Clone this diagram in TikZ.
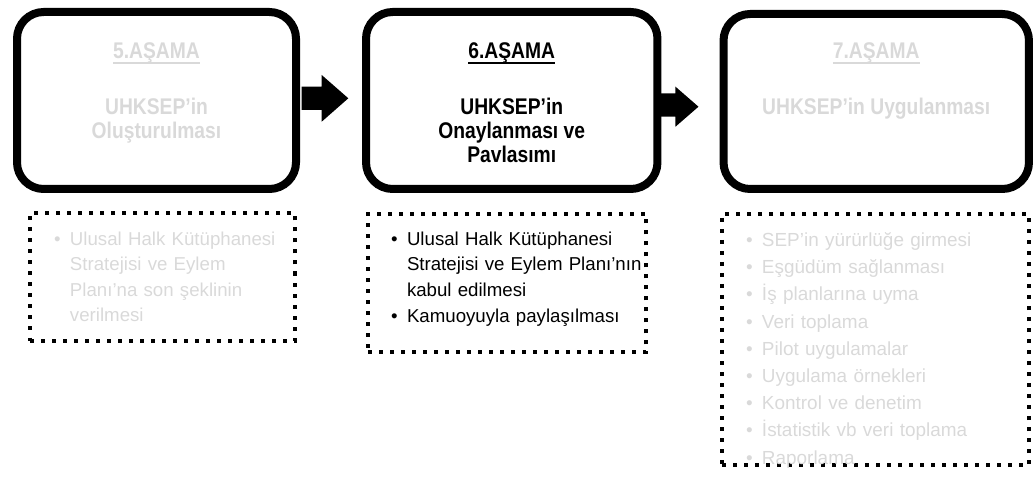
\documentclass[tikz,border=0pt]{standalone}
\usepackage{fontspec}
\setmainfont{Liberation Sans}
\newfontfamily\stagefont[FakeStretch=0.85]{Liberation Sans}
\usepackage{tikz}
\usetikzlibrary{positioning}
\usetikzlibrary{calc}
\usepackage{xcolor}
\definecolor{fadegray}{HTML}{D9D9D9}

\newlength{\bulletind}\setlength{\bulletind}{12pt}
\newcommand{\itm}[1]{\noindent\hyphenpenalty=10000\hangindent=\bulletind\hangafter=1\makebox[\bulletind][l]{\textbullet}#1\par}
\newcommand{\titleul}[1]{\setbox0\hbox{#1}\rlap{\rule[-4pt]{\wd0}{1.3pt}}\box0}

\begin{document}
\begin{tikzpicture}[x=0.75pt, y=-0.75pt,
    stagebox/.style={draw, line width=6pt, rounded corners=20pt, inner sep=0pt, outer sep=0pt},
    notebox/.style={draw, line width=3pt, dash pattern=on 3pt off 5.25pt, inner sep=0pt, outer sep=0pt},
    stagetext/.style={align=center, inner sep=0pt, outer sep=0pt, font=\stagefont\fontsize{17}{18}\selectfont\bfseries},
    notetext/.style={align=left, inner sep=0pt, outer sep=0pt, anchor=north west, font=\fontsize{14}{19.2}\selectfont}]
    \useasboundingbox (0,0) rectangle (1036,481);

    % stages
    \node[stagebox, minimum width=209.25pt, minimum height=132.75pt] (s5) at (156.5,100.5) {};
    \node[stagebox, minimum width=218.6pt, minimum height=132.75pt] (s6) at (511.75,100.5) {};
    \node[stagebox, minimum width=229.1pt, minimum height=131.25pt] (s7) at (876.25,101.5) {};

    \node[stagetext, text=fadegray, below=23.25pt of s5.north] (t5) {\titleul{5.AŞAMA}\\[24pt]UHKSEP’in\\Oluşturulması};
    \node[stagetext, below=23.25pt of s6.north] (t6) {\titleul{6.AŞAMA}\\[24pt]UHKSEP’in\\Onaylanması ve\\Pavlasımı};
    \node[stagetext, text=fadegray, below=21.75pt of s7.north] (t7) {\titleul{7.AŞAMA}\\[24pt]UHKSEP’in Uygulanması};

    % arrows between stages
    \fill ($(s5.east)+(5.7,-13.8)$) -- ++(20,0) -- ++(0,-11.7) -- ++(26.6,23.3) -- ++(-26.6,23.4) -- ++(0,-11.7) -- ++(-20,0) -- cycle;
    \fill ($(s6.east)+(0.5,-7.2)$) -- ++(17.5,0) -- ++(0,-6.6) -- ++(23,20) -- ++(-23,20) -- ++(0,-10) -- ++(-17.5,0) -- cycle;

    % notes
    \node[notebox, minimum width=198.75pt, minimum height=95.25pt] (n5) at (162.5,277) {};
    \node[notebox, minimum width=208.5pt, minimum height=103.9pt] (n6) at (507,283) {};
    \node[notebox, minimum width=230.25pt, minimum height=188.25pt] (n7) at (875.5,339.5) {};

    \node[notetext, text width=185pt, text=fadegray] (l5) at ($(n5.north west)+(24,18)$)
        {\itm{Ulusal Halk Kütüphanesi\newline Stratejisi ve Eylem\newline Planı’na son şeklinin\newline verilmesi}};
    \node[notetext, text width=200pt] (l6) at ($(n6.north west)+(23,18)$)
        {\itm{Ulusal Halk Kütüphanesi\newline Stratejisi ve Eylem Planı’nın\newline kabul edilmesi}\itm{Kamuoyuyla paylaşılması}};
    \node[notetext, text width=215pt, text=fadegray, font=\fontsize{14.2}{20.4}\selectfont] (l7) at ($(n7.north west)+(24,18.5)$)
        {\itm{SEP’in yürürlüğe girmesi}\itm{Eşgüdüm sağlanması}\itm{İş planlarına uyma}\itm{Veri toplama}\itm{Pilot uygulamalar}\itm{Uygulama örnekleri}\itm{Kontrol ve denetim}\itm{İstatistik vb veri toplama}\itm{Raporlama}};
\end{tikzpicture}
\end{document}
